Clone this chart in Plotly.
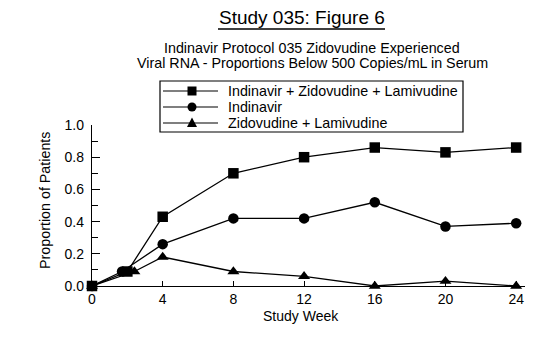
import plotly.graph_objects as go

# ---- data ----
series_names = ["Indinavir + Zidovudine + Lamivudine", "Indinavir", "Zidovudine + Lamivudine"]
weeks_triple = [0, 2.0, 4, 8, 12, 16, 20, 24]
prop_triple = [0.0, 0.09, 0.43, 0.70, 0.80, 0.86, 0.83, 0.86]
weeks_idv = [0, 1.7, 4, 8, 12, 16, 20, 24]
prop_idv = [0.0, 0.09, 0.26, 0.42, 0.42, 0.52, 0.37, 0.39]
weeks_dual = [0, 2.4, 4, 8, 12, 16, 20, 24]
prop_dual = [0.0, 0.09, 0.18, 0.09, 0.06, 0.0, 0.03, 0.0]
symbols = ["square", "circle", "triangle-up"]
x_ticks = [0, 4, 8, 12, 16, 20, 24]
y_ticks = [0.0, 0.2, 0.4, 0.6, 0.8, 1.0]

FONT = "Liberation Sans, Arial, Helvetica, sans-serif"
W, H = 555, 338
L, R, T, B = 92, 30, 125, 52
XMAX = 24.5

def pxx(x):
    return (x - L) / (W - L - R)

def pxy(y):
    return (H - B - y) / (H - T - B)

fig = go.Figure()
data = [(weeks_triple, prop_triple), (weeks_idv, prop_idv), (weeks_dual, prop_dual)]
for (xs, ys), name, sym in zip(data, series_names, symbols):
    fig.add_trace(go.Scatter(
        x=xs, y=ys, name=name, mode="lines+markers",
        line=dict(color="black", width=1.3),
        marker=dict(symbol=sym, size=10.5, color="black"),
        cliponaxis=False, showlegend=False,
    ))

shapes = []
annotations = []

# title underline
shapes.append(dict(type="line", xref="paper", yref="paper",
                   x0=pxx(218), x1=pxx(385), y0=pxy(29), y1=pxy(29),
                   line=dict(color="black", width=1.5)))

# manual legend
bx0, bx1, by0, by1 = 160, 463, 81, 132
shapes.append(dict(type="rect", xref="paper", yref="paper",
                   x0=pxx(bx0), x1=pxx(bx1), y0=pxy(by1), y1=pxy(by0),
                   line=dict(color="black", width=1.2), fillcolor="white", layer="above"))
rows = [91, 107, 123]
lx0, lx1, mx = 163, 218, 192
ms = 4.5
for ry, name, sym in zip(rows, series_names, symbols):
    shapes.append(dict(type="line", xref="paper", yref="paper",
                       x0=pxx(lx0), x1=pxx(lx1), y0=pxy(ry), y1=pxy(ry),
                       line=dict(color="black", width=1.2), layer="above"))
    if sym == "square":
        shapes.append(dict(type="rect", xref="paper", yref="paper",
                           x0=pxx(mx - ms), x1=pxx(mx + ms), y0=pxy(ry + ms), y1=pxy(ry - ms),
                           fillcolor="black", line=dict(width=0), layer="above"))
    elif sym == "circle":
        shapes.append(dict(type="circle", xref="paper", yref="paper",
                           x0=pxx(mx - ms), x1=pxx(mx + ms), y0=pxy(ry + ms), y1=pxy(ry - ms),
                           fillcolor="black", line=dict(width=0), layer="above"))
    else:
        path = "M {} {} L {} {} L {} {} Z".format(
            pxx(mx - ms - 0.5), pxy(ry + ms - 0.5), pxx(mx + ms + 0.5), pxy(ry + ms - 0.5),
            pxx(mx), pxy(ry - ms - 1))
        shapes.append(dict(type="path", xref="paper", yref="paper", path=path,
                           fillcolor="black", line=dict(width=0), layer="above"))
    annotations.append(dict(text=name, xref="paper", yref="paper",
                            x=pxx(226), y=pxy(ry), xanchor="left", yanchor="middle",
                            showarrow=False, font=dict(family=FONT, size=14.3, color="black")))

# titles
annotations.append(dict(text="Study 035: Figure 6", xref="paper", yref="paper",
                        x=pxx(301.5), y=pxy(17), xanchor="center", yanchor="middle",
                        showarrow=False, font=dict(family=FONT, size=19, color="black")))
annotations.append(dict(text="Indinavir Protocol 035 Zidovudine Experienced", xref="paper", yref="paper",
                        x=pxx(312), y=pxy(48), xanchor="center", yanchor="middle",
                        showarrow=False, font=dict(family=FONT, size=14.3, color="black")))
annotations.append(dict(text="Viral RNA - Proportions Below 500 Copies/mL in Serum", xref="paper", yref="paper",
                        x=pxx(312), y=pxy(63.5), xanchor="center", yanchor="middle",
                        showarrow=False, font=dict(family=FONT, size=14.3, color="black")))
# axis titles
annotations.append(dict(text="Study Week", xref="paper", yref="paper",
                        x=pxx(301), y=pxy(316), xanchor="center", yanchor="middle",
                        showarrow=False, font=dict(family=FONT, size=14, color="black")))
annotations.append(dict(text="Proportion of Patients", xref="paper", yref="paper",
                        x=pxx(45), y=pxy(200), xanchor="center", yanchor="middle", textangle=-90,
                        showarrow=False, font=dict(family=FONT, size=14.3, color="black")))

fig.update_layout(
    width=W, height=H,
    margin=dict(l=L, r=R, t=T, b=B, pad=0),
    paper_bgcolor="white", plot_bgcolor="white",
    showlegend=False,
    shapes=shapes, annotations=annotations,
    font=dict(family=FONT, size=12, color="black"),
    xaxis=dict(range=[0, XMAX], tickvals=x_ticks, ticktext=[str(v) for v in x_ticks],
               showgrid=False, zeroline=False, showline=True, linecolor="black", linewidth=1.3,
               ticks="inside", ticklen=5, tickcolor="black",
               tickfont=dict(family=FONT, size=14, color="black")),
    yaxis=dict(range=[0, 1.0], tickvals=y_ticks, ticktext=["{:.1f}".format(v) for v in y_ticks],
               showgrid=False, zeroline=False, showline=True, linecolor="black", linewidth=1.3,
               ticks="inside", ticklen=8, tickcolor="black", ticklabelstandoff=4,
               minor=dict(dtick=0.1, tick0=0, ticks="inside", ticklen=6, tickcolor="black"),
               tickfont=dict(family=FONT, size=14, color="black")),
)

fig.write_html("out.html")
